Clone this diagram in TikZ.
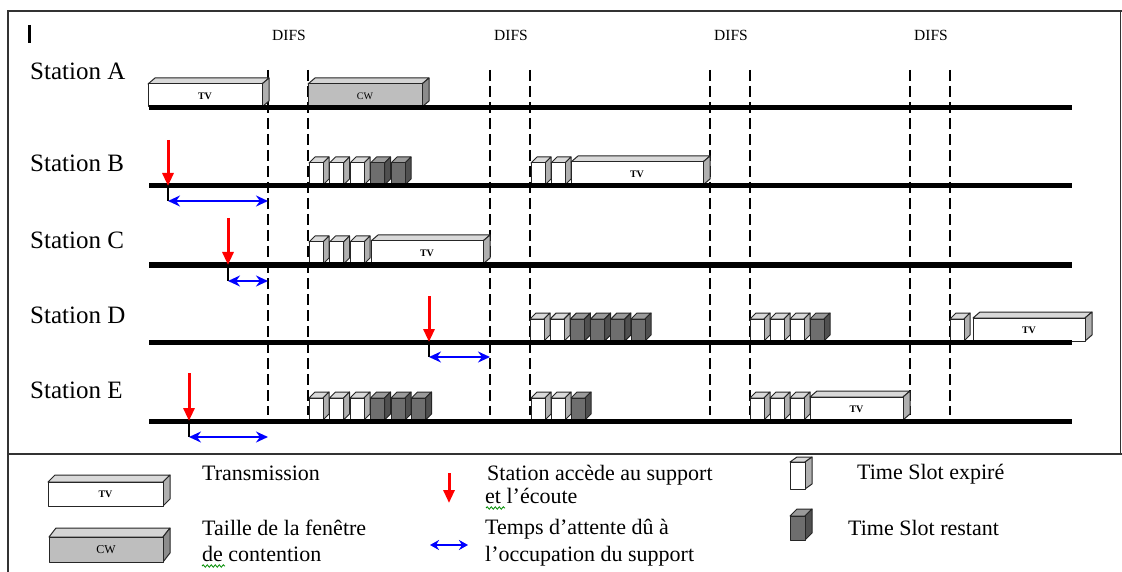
\documentclass[tikz,border=0pt]{standalone}
\usepackage{fontspec}
\setmainfont{Liberation Serif}
\usetikzlibrary{arrows.meta,decorations.pathmorphing}

\definecolor{slottop}{HTML}{D9D9D9}
\definecolor{slotside}{HTML}{B0B0B0}
\definecolor{darkfront}{HTML}{6E6E6E}
\definecolor{darktop}{HTML}{9A9A9A}
\definecolor{darkside}{HTML}{505050}
\definecolor{cwfront}{HTML}{BEBEBE}
\definecolor{cwtop}{HTML}{D4D4D4}
\definecolor{cwside}{HTML}{8C8C8C}

\tikzset{
  frame/.style={line width=1.4pt, draw=black!80},
  medium/.style={line width=5pt, draw=black},
  difsline/.style={line width=1.2pt, dash pattern=on 11pt off 5pt},
  access/.style={line width=3pt, draw=red, -{Triangle[length=13pt,width=11pt,fill=red]}},
  waiting/.style={line width=1.6pt, draw=blue, {Stealth[length=12pt,width=11pt]}-{Stealth[length=12pt,width=11pt]}},
  drop/.style={line width=1.2pt, draw=black},
  stationlabel/.style={anchor=base west, inner sep=0pt, font=\fontsize{25}{30}\selectfont},
  legendtext/.style={anchor=base west, inner sep=0pt, font=\fontsize{22}{26}\selectfont},
  difslabel/.style={inner sep=0pt, font=\fontsize{15.5}{18}\selectfont},
  boxtext/.style={inner sep=0pt, font=\fontsize{10}{12}\selectfont\bfseries},
  facedraw/.style={draw=black!85, line width=1pt, line join=round},
  squiggle/.style={draw=green!55!black, line width=0.8pt, decorate,
    decoration={snake, segment length=4pt, amplitude=1.2pt}},
}

% 3D block: x1, top of front face, x2, bottom of front face, depth dx, dy, fills
\newcommand{\prism}[9]{%
  \filldraw[facedraw, fill=#8] ({#1},{#2}) -- ({#1+#5},{#2-#6}) -- ({#3+#5},{#2-#6}) -- ({#3},{#2}) -- cycle;
  \filldraw[facedraw, fill=#9] ({#3},{#2}) -- ({#3+#5},{#2-#6}) -- ({#3+#5},{#4-#6}) -- ({#3},{#4}) -- cycle;
  \filldraw[facedraw, fill=#7] ({#1},{#2}) rectangle ({#3},{#4});
}
% expired and remaining time slots standing on a station line
\newcommand{\wslot}[2]{\prism{#1}{#2-23}{#1+14}{#2-1}{6}{6}{white}{slottop}{slotside}}
\newcommand{\dslot}[2]{\prism{#1}{#2-23}{#1+14}{#2-1}{6}{6}{darkfront}{darktop}{darkside}}
% transmission block
\newcommand{\tvbox}[4]{%
  \prism{#1}{#3-24}{#2}{#3-1}{7}{6}{white}{slottop}{slotside}
  \node[boxtext] (#4) at ({(#1+#2)/2},{#3-12}) {TV};
}

\begin{document}
\begin{tikzpicture}[x=1pt,y=-1pt]
\useasboundingbox (0,0) rectangle (1122,572);
\fill[white] (0,0) rectangle (1122,572);

% frame and legend separator
\draw[frame] (1122,11) -- (8,11) -- (8,572);
\draw[frame] (1120.5,11) -- (1120.5,454);
\draw[frame] (8,454) -- (1122,454);
\draw[line width=3pt] (29.5,25) -- (29.5,43);

% DIFS intervals
\foreach \a/\b/\n in {268/308/1,490/530/2,710/750/3,910/950/4}{
  \draw[difsline] (\a,70) -- (\a,415);
  \draw[difsline] (\b,70) -- (\b,415);
  \node[difslabel] (difs\n) at ({(\a+\b)/2+1},35) {DIFS};
}

% station labels
\node[stationlabel] (labA) at (30,80) {Station A};
\node[stationlabel] (labB) at (30,172) {Station B};
\node[stationlabel] (labC) at (30,248) {Station C};
\node[stationlabel] (labD) at (30,323) {Station D};
\node[stationlabel] (labE) at (30,398) {Station E};

% Station A
\tvbox{148}{262}{108}{tvA}
\prism{308}{84}{422}{107}{7}{6}{cwfront}{cwtop}{cwside}
\node[boxtext, font=\fontsize{10}{12}\selectfont] (cwA) at (365,96) {CW};

% Station B
\foreach \i in {0,1,2}{\wslot{309+20.5*\i}{186}}
\foreach \i in {3,4}{\dslot{309+20.5*\i}{186}}
\foreach \i in {0,1}{\wslot{531+20*\i}{186}}
\tvbox{571}{703}{186}{tvB}

% Station C
\foreach \i in {0,1,2}{\wslot{309+20.5*\i}{265}}
\tvbox{371}{483}{265}{tvC}

% Station D
\foreach \i in {0,1}{\wslot{530+20.2*\i}{342}}
\foreach \i in {2,3,4,5}{\dslot{530+20.2*\i}{342}}
\foreach \i in {0,1,2}{\wslot{750+20*\i}{342}}
\dslot{810}{342}
\wslot{950}{342}
\tvbox{973}{1085}{342}{tvD}

% Station E
\foreach \i in {0,1,2}{\wslot{309+20.5*\i}{421}}
\foreach \i in {3,4,5}{\dslot{309+20.5*\i}{421}}
\foreach \i in {0,1}{\wslot{531+20*\i}{421}}
\dslot{571}{421}
\foreach \i in {0,1,2}{\wslot{750+20*\i}{421}}
\tvbox{810}{903}{421}{tvE}

% shared medium of each station
\foreach \y/\n in {108/A,186/B,265/C,342/D,421/E}{
  \coordinate (start\n) at (149,\y);
  \coordinate (end\n) at (1072,\y);
  \draw[medium] (start\n) -- (end\n);
}

% access instants and waiting times
\foreach \x/\top/\y/\w/\e/\n in {168/140/186/201/268/B, 228/218/265/281/268/C,
                                 429/296/342/357/490/D, 189/373/421/437/268/E}{
  \coordinate (src\n) at (\x,\top);
  \coordinate (hit\n) at (\x,\y);
  \coordinate (wait\n) at (\x,\w);
  \coordinate (free\n) at (\e,\w);
  \draw[drop] (hit\n) -- (wait\n);
  \draw[access] (src\n) -- (hit\n);
  \draw[waiting] (wait\n) -- (free\n);
}

% legend
\prism{48}{482}{163}{506}{7}{7}{white}{slottop}{slotside}
\node[boxtext] (legtv) at (105.5,494) {TV};
\prism{49}{537}{163}{562}{7}{9}{cwfront}{cwtop}{cwside}
\node[inner sep=0pt, font=\fontsize{12}{14}\selectfont] (legcw) at (106,549.5) {CW};
\node[legendtext] (txtA) at (202,480) {Transmission};
\node[legendtext] (txtB) at (202,535) {Taille de la fenêtre};
\node[legendtext] (txtC) at (202,561) {de contention};
\draw[squiggle] (202,566) -- (225,566);

\coordinate (legarrA) at (449,473);
\coordinate (legarrB) at (449,503);
\draw[access] (legarrA) -- (legarrB);
\coordinate (legwaitA) at (430,545);
\coordinate (legwaitB) at (468,545);
\draw[waiting, {Stealth[length=9pt,width=10pt]}-{Stealth[length=9pt,width=10pt]}] (legwaitA) -- (legwaitB);
\node[legendtext] (txtD) at (487,480) {Station accède au support};
\node[legendtext] (txtE) at (485,503) {et l’écoute};
\draw[squiggle] (486,508) -- (505,508);
\node[legendtext] (txtF) at (485,534) {Temps d’attente dû à};
\node[legendtext] (txtG) at (485,561) {l’occupation du support};

\prism{790}{462}{805}{489}{7}{5}{white}{slottop}{slotside}
\prism{790}{516}{805}{540}{7}{7}{darkfront}{darktop}{darkside}
\node[legendtext] (txtH) at (857,479) {Time Slot expiré};
\node[legendtext] (txtI) at (848,535) {Time Slot restant};
\end{tikzpicture}
\end{document}
